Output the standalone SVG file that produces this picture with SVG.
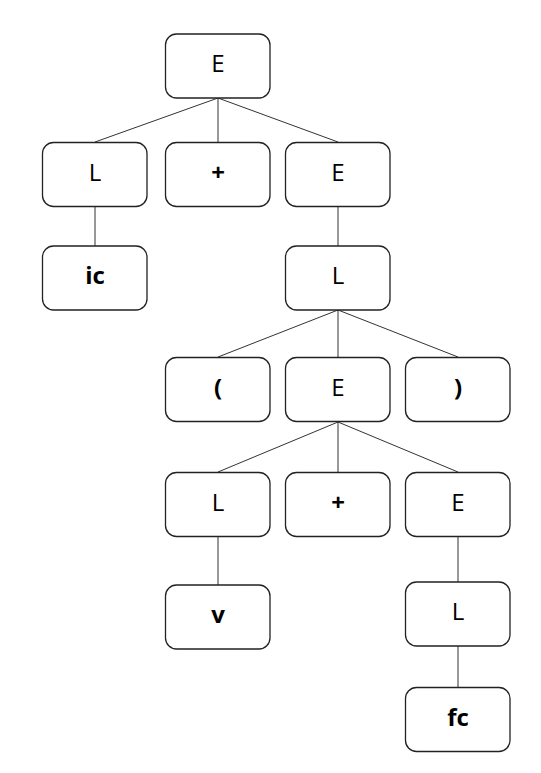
<svg xmlns="http://www.w3.org/2000/svg" width="541" height="773" viewBox="0 0 541 773">
  <style>
    .box { fill: #ffffff; stroke: #222222; stroke-width: 1.3; }
    .lbl { font-family: "Open Sans", "Liberation Sans", sans-serif; font-size: 24px; fill: #000000; text-anchor: middle; }
    .term { font-weight: bold; }
    .edge { stroke: #333333; stroke-width: 1; fill: none; }
  </style>
  <defs>
    <rect id="node-shape" width="104.5" height="64" rx="11" ry="11"/>
  </defs>
  <rect width="541" height="773" fill="#ffffff"/>

  <!-- tree edges: parent bottom-centre to child top-centre -->
  <g id="connectors">
    <line class="edge" x1="218" y1="98" x2="95" y2="142"/>
    <line class="edge" x1="218" y1="98" x2="218" y2="142"/>
    <line class="edge" x1="218" y1="98" x2="338" y2="142"/>
    <line class="edge" x1="95" y1="207" x2="95" y2="246"/>
    <line class="edge" x1="338" y1="207" x2="338" y2="246"/>
    <line class="edge" x1="338" y1="310" x2="218" y2="357"/>
    <line class="edge" x1="338" y1="310" x2="338" y2="357"/>
    <line class="edge" x1="338" y1="310" x2="458" y2="357"/>
    <line class="edge" x1="338" y1="422" x2="218" y2="472"/>
    <line class="edge" x1="338" y1="422" x2="338" y2="472"/>
    <line class="edge" x1="338" y1="422" x2="458" y2="472"/>
    <line class="edge" x1="218" y1="537" x2="218" y2="585"/>
    <line class="edge" x1="458" y1="537" x2="458" y2="582"/>
    <line class="edge" x1="458" y1="646" x2="458" y2="687"/>
  </g>

  <g id="n-E-root">
    <use href="#node-shape" class="box" x="165.5" y="34"/>
    <text class="lbl" x="218" y="72">E</text>
  </g>
  <g id="n-L-1">
    <use href="#node-shape" class="box" x="42.5" y="142.5"/>
    <text class="lbl" x="95" y="180.5">L</text>
  </g>
  <g id="n-plus-1">
    <use href="#node-shape" class="box" x="165.5" y="142.5"/>
    <text class="lbl term" x="218" y="180.5">+</text>
  </g>
  <g id="n-E-2">
    <use href="#node-shape" class="box" x="285.5" y="142.5"/>
    <text class="lbl" x="338" y="180.5">E</text>
  </g>
  <g id="n-ic">
    <use href="#node-shape" class="box" x="42.5" y="246"/>
    <text class="lbl term" x="95" y="284">ic</text>
  </g>
  <g id="n-L-2">
    <use href="#node-shape" class="box" x="285.5" y="246"/>
    <text class="lbl" x="338" y="284">L</text>
  </g>
  <g id="n-lparen">
    <use href="#node-shape" class="box" x="165.5" y="357.5"/>
    <text class="lbl term" x="218" y="395.5">(</text>
  </g>
  <g id="n-E-3">
    <use href="#node-shape" class="box" x="285.5" y="357.5"/>
    <text class="lbl" x="338" y="395.5">E</text>
  </g>
  <g id="n-rparen">
    <use href="#node-shape" class="box" x="405.5" y="357.5"/>
    <text class="lbl term" x="458" y="395.5">)</text>
  </g>
  <g id="n-L-3">
    <use href="#node-shape" class="box" x="165.5" y="472.5"/>
    <text class="lbl" x="218" y="510.5">L</text>
  </g>
  <g id="n-plus-2">
    <use href="#node-shape" class="box" x="285.5" y="472.5"/>
    <text class="lbl term" x="338" y="510.5">+</text>
  </g>
  <g id="n-E-4">
    <use href="#node-shape" class="box" x="405.5" y="472.5"/>
    <text class="lbl" x="458" y="510.5">E</text>
  </g>
  <g id="n-v">
    <use href="#node-shape" class="box" x="165.5" y="585"/>
    <text class="lbl term" x="218" y="623">v</text>
  </g>
  <g id="n-L-4">
    <use href="#node-shape" class="box" x="405.5" y="582"/>
    <text class="lbl" x="458" y="620">L</text>
  </g>
  <g id="n-fc">
    <use href="#node-shape" class="box" x="405.5" y="687.5"/>
    <text class="lbl term" x="458" y="725.5">fc</text>
  </g>
</svg>
